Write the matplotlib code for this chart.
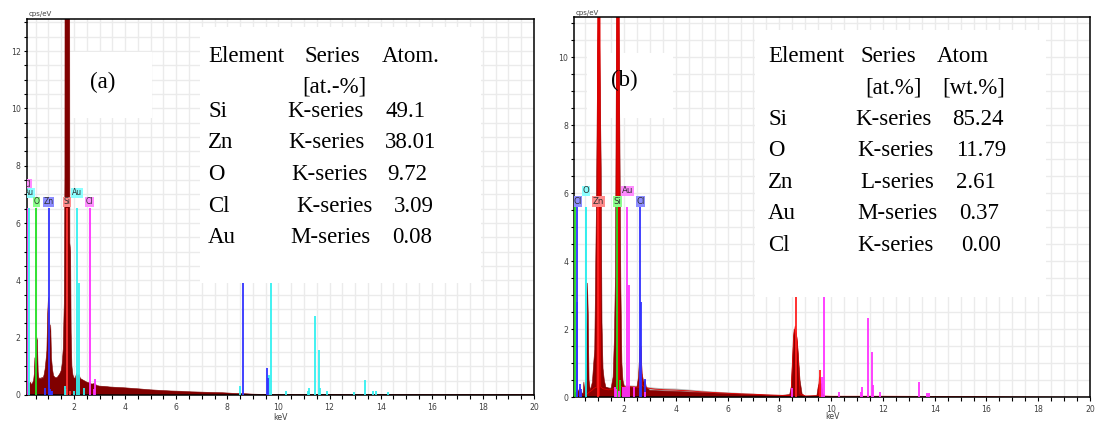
import matplotlib
matplotlib.use('Agg')
import numpy as np
import matplotlib.pyplot as plt
from matplotlib.ticker import MultipleLocator
from matplotlib.patches import Rectangle

# ---------------- data ----------------
# Panel (a) spectrum (keV, cps/eV)
energy_a = [0.15, 0.18, 0.22, 0.26, 0.30, 0.34, 0.38, 0.42, 0.45, 0.47, 0.49, 0.52, 0.55, 0.57,
            0.60, 0.63, 0.67, 0.71, 0.75, 0.79, 0.83, 0.87, 0.91, 0.94, 0.97, 1.00, 1.03, 1.06,
            1.09, 1.12, 1.16, 1.20, 1.25, 1.30, 1.35, 1.40, 1.45, 1.50, 1.54, 1.58, 1.62, 1.645,
            1.66, 1.74, 1.82, 1.84, 1.87, 1.89, 1.92, 1.96, 2.00, 2.05, 2.10, 2.15, 2.20, 2.25,
            2.30, 2.40, 2.50, 2.60, 2.70, 2.80, 2.90, 3.00, 3.20, 3.40, 3.60, 3.80, 4.00, 4.30,
            4.60, 5.00, 5.40, 5.80, 6.20, 6.60, 7.00, 7.40, 7.80, 8.20, 8.60, 9.00, 9.50, 10.0, 20.0]
cps_a = [0.35, 0.50, 0.45, 0.38, 0.44, 0.36, 0.42, 0.50, 0.75, 1.30, 0.60, 1.20, 2.00, 1.90,
         0.80, 0.55, 0.60, 0.55, 0.62, 0.58, 0.70, 0.90, 1.25, 1.55, 2.80, 3.40, 3.00, 2.00,
         2.45, 1.30, 0.90, 0.68, 0.62, 0.60, 0.62, 0.68, 0.75, 0.85, 1.10, 1.60, 3.20, 7.60,
         30.0, 60.0, 30.0, 5.30, 5.00, 2.20, 1.00, 0.70, 0.60, 0.58, 0.75, 0.62, 0.72, 0.58,
         0.55, 0.50, 0.45, 0.42, 0.38, 0.40, 0.33, 0.31, 0.30, 0.28, 0.27, 0.26, 0.25, 0.23,
         0.21, 0.18, 0.16, 0.14, 0.13, 0.11, 0.10, 0.09, 0.08, 0.06, 0.05, 0.03, 0.02, 0.02, 0.02]

# Panel (b): background (grey) spectrum
energy_b_bg = [0.08, 0.40, 0.50, 0.60, 0.70, 0.80, 0.90, 1.00, 1.05, 1.12, 1.20, 1.35, 1.50, 1.70,
               1.90, 2.10, 2.30, 2.50, 2.80, 3.10, 3.50, 4.00, 4.50, 5.00, 5.50, 6.00, 6.50, 7.00,
               7.50, 8.00, 8.50, 9.00, 9.50, 10.0, 12.0, 20.0]
cps_b_bg = [0.0, 0.0, 0.08, 0.15, 0.22, 0.35, 0.48, 0.58, 0.57, 0.45, 0.33, 0.30, 0.31, 0.35,
            0.36, 0.37, 0.36, 0.35, 0.33, 0.30, 0.28, 0.27, 0.24, 0.21, 0.18, 0.16, 0.14, 0.12,
            0.10, 0.08, 0.06, 0.04, 0.03, 0.02, 0.01, 0.0]

# Panel (b): dark red spectrum
energy_b = [0.08, 0.12, 0.16, 0.25, 0.30, 0.35, 0.42, 0.45, 0.48, 0.55, 0.59, 0.62, 0.65, 0.70,
            0.78, 0.82, 0.87, 0.90, 0.94, 0.98, 1.02, 1.07, 1.12, 1.15, 1.19, 1.24, 1.30, 1.50,
            1.58, 1.63, 1.67, 1.70, 1.74, 1.80, 1.84, 1.88, 1.92, 1.96, 2.02, 2.50, 2.56, 2.60,
            2.63, 2.66, 2.70, 2.76, 2.82, 2.86, 3.00, 8.00, 8.40, 8.46, 8.52, 8.57, 8.62, 8.68,
            8.74, 8.80, 8.88, 9.00, 9.45, 9.50, 9.55, 9.62, 9.68, 9.75, 20.0]
cps_b = [0.0, 0.15, 0.10, 0.20, 0.30, 0.15, 0.10, 0.45, 0.20, 0.60, 3.36, 2.42, 0.50, 0.20,
         0.45, 0.90, 1.40, 3.40, 6.00, 10.0, 12.0, 10.0, 6.74, 2.20, 0.85, 0.50, 0.30, 0.25,
         0.60, 1.75, 3.60, 9.00, 13.0, 12.0, 7.80, 3.20, 1.00, 0.50, 0.30, 0.30, 0.60, 1.20,
         1.64, 1.40, 0.70, 0.45, 0.50, 0.30, 0.20, 0.05, 0.08, 0.30, 1.20, 2.00, 1.95, 1.75,
         1.20, 0.50, 0.10, 0.03, 0.05, 0.30, 0.43, 0.40, 0.10, 0.02, 0.0]

# Panel (b): bright red spectrum trace
energy_b_red = [0.08, 0.45, 0.55, 0.65, 0.75, 0.85, 0.95, 0.99, 1.07, 1.10, 1.20, 1.40, 1.60, 1.71,
                1.72, 1.81, 1.83, 2.00, 2.20, 2.40, 2.58, 2.62, 2.66, 2.70, 2.90, 3.20, 3.60, 4.00,
                4.50, 5.00, 5.50, 6.00, 6.50, 7.00, 7.50, 8.00, 8.45, 8.55, 8.62, 8.70, 8.80, 9.00,
                9.50, 9.55, 9.58, 9.65, 10.0, 12.0, 16.0, 17.0, 20.0]
cps_b_red = [0.0, 0.0, 0.08, 0.15, 0.20, 0.27, 0.30, 13.0, 13.0, 0.30, 0.25, 0.22, 0.25, 0.30,
             13.0, 13.0, 0.32, 0.30, 0.32, 0.30, 0.30, 1.40, 1.50, 0.35, 0.27, 0.24, 0.22, 0.21,
             0.19, 0.16, 0.14, 0.12, 0.10, 0.09, 0.07, 0.06, 0.05, 1.80, 2.10, 1.60, 0.10, 0.04,
             0.04, 0.60, 0.50, 0.04, 0.03, 0.03, 0.02, 0.01, 0.0]

# Element line markers: element -> (energies keV, heights cps/eV)
lines_a = {
    'Cl': ([0.18, 2.62, 2.77, 2.82], [6.52, 6.52, 0.20, 0.55]),
    'Au': ([0.25, 2.12, 2.20, 1.65, 1.70, 2.00, 2.40, 8.49, 9.63, 9.71, 10.31, 11.15, 11.20,
            11.44, 11.58, 11.61, 11.90, 12.95, 13.38, 13.70, 13.80, 14.30],
           [6.52, 6.52, 3.90, 0.30, 0.20, 0.15, 0.25, 0.30, 0.70, 6.52, 0.15, 0.15, 0.25,
            2.76, 1.57, 0.25, 0.15, 0.12, 0.53, 0.15, 0.15, 0.12]),
    'O': ([0.525], [6.52]),
    'Zn': ([1.012, 0.88, 1.05, 1.10, 1.15, 8.63, 9.57, 9.60], [6.52, 0.26, 0.20, 0.15, 0.15, 6.52, 0.95, 0.60]),
    'Si': ([1.74, 1.84], [6.52, 0.14]),
}
lines_b = {
    'Si': ([0.10, 1.74, 1.83], [5.60, 5.60, 0.50]),
    'Cl': ([0.18, 0.20, 0.30, 0.35, 2.62, 2.64, 2.82], [5.60, 2.80, 0.40, 0.25, 5.60, 2.80, 0.54]),
    'O': ([0.525], [5.60]),
    'Zn': ([1.012, 8.64, 9.57], [5.60, 5.60, 0.80]),
    'Au': ([2.12, 2.20, 1.66, 1.70, 1.80, 1.98, 2.05, 2.40, 2.80, 8.49, 9.63, 9.71, 10.31, 11.15,
            11.20, 11.44, 11.58, 11.61, 11.90, 13.38, 13.70, 13.80],
           [5.60, 3.30, 0.30, 0.25, 0.20, 0.30, 0.30, 0.30, 0.15, 0.27, 0.61, 5.60, 0.15, 0.15,
            0.30, 2.32, 1.34, 0.35, 0.15, 0.46, 0.14, 0.14]),
}
# Element labels: (text, energy, level)
labels_a = [('Cl', 0.18, 7.35), ('Au', 0.25, 7.05), ('O', 0.525, 6.74), ('Zn', 1.012, 6.74),
            ('Si', 1.74, 6.74), ('Au', 2.12, 7.05), ('Cl', 2.62, 6.74)]
labels_b = [('Cl', 0.20, 5.76), ('O', 0.525, 6.07), ('Zn', 1.012, 5.76), ('Si', 1.76, 5.76),
            ('Au', 2.13, 6.07), ('Cl', 2.64, 5.76)]

colors_a = {'Cl': ('#ff33ff', '#ff8cff'), 'Au': ('#33f0f0', '#8cffff'), 'O': ('#22e022', '#8cff8c'),
            'Zn': ('#3333ff', '#8c8cff'), 'Si': ('#ff3333', '#ff8c8c')}
colors_b = {'Cl': ('#3333ff', '#8c8cff'), 'O': ('#22eeee', '#8cffff'), 'Zn': ('#ff2020', '#ff8c8c'),
            'Si': ('#22dd22', '#8cff8c'), 'Au': ('#ff33ff', '#ff8cff')}

# Tables
table_a_header = ['Element', 'Series', 'Atom.']
table_a_unit = ['[at.-%]']
table_a_elements = ['Si', 'Zn', 'O', 'Cl', 'Au']
table_a_series = ['K-series', 'K-series', 'K-series', 'K-series', 'M-series']
table_a_values = ['49.1', '38.01', '9.72', '3.09', '0.08']

table_b_header = ['Element', 'Series', 'Atom']
table_b_unit = ['[at.%]', '[wt.%]']
table_b_elements = ['Si', 'O', 'Zn', 'Au', 'Cl']
table_b_series = ['K-series', 'K-series', 'L-series', 'M-series', 'K-series']
table_b_values = ['85.24', '11.79', '2.61', '0.37', '0.00']

# ---------------- figure ----------------
W, H = 1095, 421
fig = plt.figure(figsize=(W / 100, H / 100), dpi=100)

def add_axes_px(l, t, r, b):
    return fig.add_axes([l / W, 1 - b / H, (r - l) / W, (b - t) / H])

axA = add_axes_px(26.7, 19, 534, 395)
axB = add_axes_px(574.3, 17.3, 1090, 397.3)

TICK_FS = 5.6

def style(ax, xmin, ymax, xlabelpad):
    ax.set_xlim(xmin, 20)
    ax.set_ylim(0, ymax)
    ax.xaxis.set_major_locator(MultipleLocator(2))
    ax.xaxis.set_minor_locator(MultipleLocator(0.5))
    ax.yaxis.set_major_locator(MultipleLocator(2))
    ax.yaxis.set_minor_locator(MultipleLocator(0.5))
    ax.grid(which='both', color='#ebebeb', lw=1.0, zorder=0)
    ax.set_axisbelow(True)
    ax.tick_params(axis='x', which='both', direction='out', length=2.9, width=0.8,
                   pad=2.6, labelsize=TICK_FS, labelcolor='#404040')
    ax.tick_params(axis='y', which='both', direction='out', length=2.5, width=0.8,
                   pad=1.8, labelsize=TICK_FS, labelcolor='#404040')
    for s in ax.spines.values():
        s.set_linewidth(1.1)
        s.set_color('black')
    ax.set_xlabel('keV', fontsize=TICK_FS, color='#404040', labelpad=xlabelpad)
    ax.text(0.003, 1.004, 'cps/eV', transform=ax.transAxes, ha='left', va='bottom',
            fontsize=5.0, color='#404040')

style(axA, 0.15, 13.12, 0.8)
style(axB, 0.08, 11.18, -1.2)

def draw_lines(ax, lines, colors):
    for el, (es, hs) in lines.items():
        ax.vlines(es, 0, hs, colors=colors[el][0], lw=1.3, zorder=3)

def draw_labels(ax, labels, colors, fs):
    for txt, e, lvl in labels:
        ax.text(e, lvl, txt, ha='center', va='center', fontsize=fs, color='#303030',
                clip_on=True, zorder=4,
                bbox=dict(boxstyle='square,pad=0.08', facecolor=colors[txt][1], edgecolor='none'))

def box_px(ax, x0, y0, x1, y1, z):
    ax.add_patch(Rectangle((x0 / W, 1 - y1 / H), (x1 - x0) / W, (y1 - y0) / H,
                           transform=fig.transFigure, facecolor='white', edgecolor='none',
                           clip_on=False, zorder=z))

# ---- panel (a)
axA.fill_between(energy_a, 0, cps_a, color='#800000', lw=0.4, zorder=2)
draw_lines(axA, lines_a, colors_a)
draw_labels(axA, labels_a, colors_a, 5.5)
box_px(axA, 70, 52, 152, 118, 1.2)
box_px(axA, 200, 27, 481, 283, 5)

# ---- panel (b)
axB.fill_between(energy_b_bg, 0, cps_b_bg, color='#b4b4b4', lw=0, zorder=1.8)
axB.fill_between(energy_b, 0, cps_b, color='#8b0000', lw=0.4, zorder=2)
red_e = np.array(energy_b_red)
red_v = np.array(cps_b_red)
axB.fill_between(red_e, 0, red_v, where=red_v > 5, color='#e00000', lw=0, zorder=2.2)
axB.plot(red_e, red_v, color='#e00000', lw=0.6, zorder=2.3)
draw_lines(axB, lines_b, colors_b)
draw_labels(axB, labels_b, colors_b, 6.2)
box_px(axB, 587, 53, 673, 118, 1.2)
box_px(axB, 755, 30, 1046, 297, 5)

# ---- texts
serif = ['Liberation Serif', 'DejaVu Serif']
FS = 16.5

def t(x, y, s):
    fig.text(x / W, 1 - y / H, s, ha='left', va='baseline', fontsize=FS, family=serif,
             color='black', zorder=10)

fig.text(103 / W, 1 - 82 / H, '(a)', ha='center', va='center', fontsize=FS, family=serif, zorder=10)
fig.text(624 / W, 1 - 80 / H, '(b)', ha='center', va='center', fontsize=FS, family=serif, zorder=10)

# table (a)
for s, x in zip(table_a_header, [208, 305, 382]):
    t(x, 62, s)
t(302, 92, table_a_unit[0])
rows_a_y = [116.7, 148.3, 180, 211.7, 243.3]
ser_a_x = [287, 288, 291, 296, 290]
val_a_x = [385, 385, 387, 394, 392]
for i, y in enumerate(rows_a_y):
    t(208, y, table_a_elements[i])
    t(ser_a_x[i], y, table_a_series[i])
    t(val_a_x[i], y, table_a_values[i])

# table (b)
for s, x in zip(table_b_header, [768, 860, 937]):
    t(x, 62, s)
for s, x in zip(table_b_unit, [865, 942]):
    t(x, 93.3, s)
rows_b_y = [125, 156.5, 188, 219.5, 251]
ser_b_x = [855, 857, 860, 857, 857]
val_b_x = [952, 956, 956, 959, 961]
for i, y in enumerate(rows_b_y):
    t(768, y, table_b_elements[i])
    t(ser_b_x[i], y, table_b_series[i])
    t(val_b_x[i], y, table_b_values[i])

fig.savefig('out.png', dpi=100)
